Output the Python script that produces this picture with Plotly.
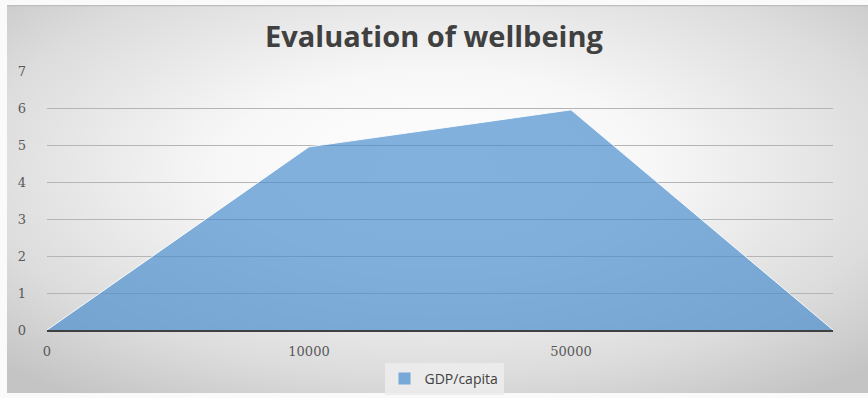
import base64
import plotly.graph_objects as go

# ---- data ----
categories = ["0", "10000", "50000", ""]
values = [0, 4.95, 5.95, 0]
series_name = "GDP/capita"
title_text = "Evaluation of wellbeing"
y_ticks = [0, 1, 2, 3, 4, 5, 6, 7]

positions = list(range(len(categories)))
area_fill = "rgba(72,140,206,0.68)"

# ---- background gradient (Excel-like radial) ----
svg = """<svg xmlns='http://www.w3.org/2000/svg' width='861' height='388' viewBox='0 0 861 388' preserveAspectRatio='none'>
<defs><radialGradient id='g' cx='0.5' cy='0.42' r='0.72'>
<stop offset='0' stop-color='#ffffff'/>
<stop offset='0.35' stop-color='#f7f7f7'/>
<stop offset='0.75' stop-color='#dcdcdc'/>
<stop offset='1' stop-color='#c4c4c4'/>
</radialGradient></defs>
<rect x='0' y='0' width='861' height='388' fill='url(#g)'/>
<line x1='0' y1='0.5' x2='861' y2='0.5' stroke='#bdbdbd' stroke-width='1.5'/>
</svg>"""
svg_uri = "data:image/svg+xml;base64," + base64.b64encode(svg.encode()).decode()

L, R, T, B = 47, 35, 71, 68
W, H = 868, 398
pw, ph = W - L - R, H - T - B

def px_x(px):
    return (px - L) / pw

def px_y(py):
    return (H - B - py) / ph

fig = go.Figure()
fig.add_trace(go.Scatter(
    x=positions, y=values, name=series_name,
    mode="lines", fill="tozeroy",
    fillcolor=area_fill,
    line=dict(color="rgba(255,255,255,0.9)", width=1),
    showlegend=False,
))
# legend-only entry to get a small square swatch like the reference
fig.add_trace(go.Bar(
    x=[None], y=[None], name=series_name,
    marker=dict(color="rgb(118,168,216)", line=dict(width=0)),
    showlegend=True, hoverinfo="skip",
))

fig.update_layout(
    width=W, height=H,
    margin=dict(l=L, r=R, t=T, b=B, autoexpand=False),
    paper_bgcolor="#fafafa",
    plot_bgcolor="rgba(0,0,0,0)",
    title=dict(text="<b>" + title_text + "</b>", x=0.5, xanchor="center",
               y=1 - 37 / H, yanchor="middle",
               font=dict(family="Open Sans", size=29, color="#404040")),
    xaxis=dict(
        range=[0, len(categories) - 1],
        tickvals=positions, ticktext=categories,
        showgrid=False, zeroline=False,
        showline=True, linecolor="#404040", linewidth=2,
        ticks="", ticklabelstandoff=8,
        tickfont=dict(family="DejaVu Serif", size=13, color="#595959"),
        fixedrange=True,
    ),
    yaxis=dict(
        range=[0, 7], tickvals=y_ticks,
        showgrid=True, gridcolor="#b5b5b5", gridwidth=1,
        zeroline=False, showline=False, ticks="",
        ticklabelstandoff=20,
        tickfont=dict(family="DejaVu Serif", size=13, color="#595959"),
        fixedrange=True,
    ),
    legend=dict(
        orientation="h", x=px_x(444), y=px_y(379),
        xanchor="center", yanchor="middle",
        bgcolor="rgba(236,236,236,0.9)",
        font=dict(family="Open Sans", size=14, color="#404040"),
    ),
    images=[dict(
        source=svg_uri, xref="paper", yref="paper",
        x=px_x(7), y=px_y(5), sizex=(W - 7) / pw, sizey=(393 - 5) / ph,
        xanchor="left", yanchor="top", sizing="stretch", layer="below",
    )],
)

fig.write_html("out.html")
